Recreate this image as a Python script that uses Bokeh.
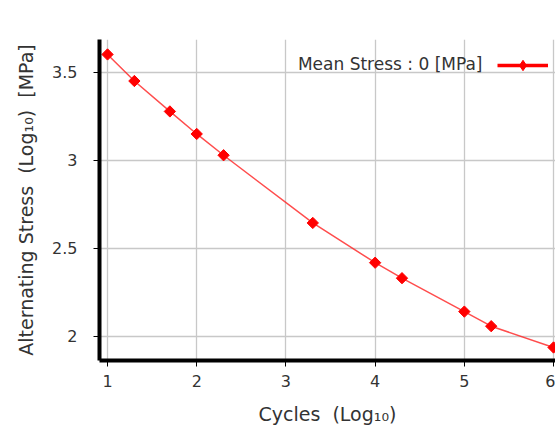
import math
from bokeh.plotting import figure
from bokeh.models import Range1d, FixedTicker, Legend, LegendItem, Label
from bokeh.embed import file_html
from bokeh.resources import INLINE

# Data (log10 cycles vs log10 alternating stress)
cycles_log = [1.0, 1.30103, 1.69897, 2.0, 2.30103, 3.30103, 4.0, 4.30103, 5.0, 5.30103, 6.0]
stress_log = [3.602, 3.451, 3.278, 3.150, 3.029, 2.644, 2.418, 2.330, 2.140, 2.057, 1.936]
series_label = "Mean Stress : 0 [MPa]"
x_ticks = [1, 2, 3, 4, 5, 6]
y_ticks = [2, 2.5, 3, 3.5]
y_tick_labels = ["2", "2.5", "3", "3.5"]

NB = "\u00a0"
W, H = 555, 427
p = figure(width=W, height=H, output_backend="svg", toolbar_location=None,
           x_range=Range1d(0.910, 6.022), y_range=Range1d(1.862, 3.687),
           min_border_left=99, min_border_right=0, min_border_top=39, min_border_bottom=67)
p.outline_line_color = None
p.background_fill_color = "white"
p.border_fill_color = "white"

for ax in (p.xaxis[0], p.yaxis[0]):
    ax.axis_line_width = 4
    ax.axis_line_color = "black"
    ax.major_tick_out = 6
    ax.major_tick_in = 0
    ax.minor_tick_out = 0
    ax.minor_tick_in = 0
    ax.major_tick_line_color = "black"
    ax.major_label_text_font = "DejaVu Sans"
    ax.major_label_text_font_size = "16px"
    ax.major_label_text_color = "#333333"
    ax.axis_label_text_font = "DejaVu Sans"
    ax.axis_label_text_font_size = "19px"
    ax.axis_label_text_font_style = "normal"
    ax.axis_label_text_color = "#333333"

p.xaxis[0].major_label_standoff = 8
p.xaxis[0].axis_label_standoff = 13
p.yaxis[0].major_label_standoff = 16
p.yaxis[0].axis_label_standoff = 12

p.xaxis[0].ticker = FixedTicker(ticks=x_ticks)
p.yaxis[0].ticker = FixedTicker(ticks=y_ticks)
p.yaxis[0].major_label_overrides = {t: l for t, l in zip(y_ticks, y_tick_labels)}
p.xaxis[0].axis_label = "Cycles" + NB + NB + "(Log\u2081\u2080)"
p.yaxis[0].axis_label = "Alternating Stress" + NB + NB + "(Log\u2081\u2080)" + NB + NB + "[MPa]"

p.grid.grid_line_color = "#c8c8c8"
p.grid.grid_line_width = 1.3
p.xgrid.ticker = FixedTicker(ticks=x_ticks)
p.ygrid.ticker = FixedTicker(ticks=y_ticks)

p.line(cycles_log, stress_log, line_color="#ff2020", line_alpha=0.8, line_width=1.5)
p.scatter(cycles_log, stress_log, marker="square", angle=math.pi / 4, size=8,
          fill_color="red", line_color="red")

# legend-only renderers (hidden)
leg_line = p.line(cycles_log, stress_log, line_color="red", line_width=3.5, visible=False)
leg_pt = p.scatter(cycles_log, stress_log, marker="diamond", size=12,
                   fill_color="red", line_color="red", visible=False)

legend = Legend(items=[LegendItem(label="", renderers=[leg_line, leg_pt])],
                location=(398, 282), padding=0, margin=0, spacing=0,
                glyph_width=51, glyph_height=26, label_standoff=0, label_height=26,
                background_fill_alpha=0, border_line_color=None,
                label_text_font_size="1px")
p.add_layout(legend)

p.add_layout(Label(x=383, y=297, x_units="screen", y_units="screen", text=series_label,
                   text_align="right", text_baseline="middle",
                   text_font="DejaVu Sans", text_font_size="17px", text_color="#333333"))

open("out.html", "w").write(file_html(p, INLINE))
